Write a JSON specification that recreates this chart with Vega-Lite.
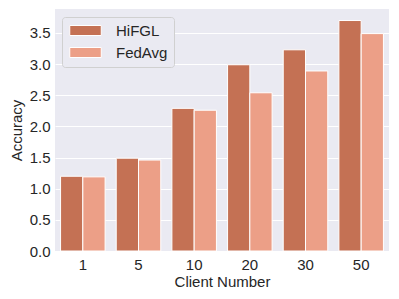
{
  "$schema": "https://vega.github.io/schema/vega-lite/v6.json",
  "width": 334,
  "height": 242,
  "autosize": {"type": "none"},
  "padding": {"left": 55, "top": 9, "right": 10, "bottom": 48},
  "background": "white",
  "config": {
    "view": {"fill": "#EAEAF2", "stroke": null},
    "font": "Liberation Sans",
    "axis": {"labelColor": "#262626", "titleColor": "#262626", "labelFontSize": 15, "titleFontSize": 15, "titleFontWeight": "normal", "domain": false, "ticks": false, "gridColor": "white", "gridWidth": 1}
  },
  "data": {
    "values": [
      {"client": "1", "method": "HiFGL", "acc": 1.2},
      {"client": "1", "method": "FedAvg", "acc": 1.19},
      {"client": "5", "method": "HiFGL", "acc": 1.49},
      {"client": "5", "method": "FedAvg", "acc": 1.46},
      {"client": "10", "method": "HiFGL", "acc": 2.29},
      {"client": "10", "method": "FedAvg", "acc": 2.26},
      {"client": "20", "method": "HiFGL", "acc": 2.99},
      {"client": "20", "method": "FedAvg", "acc": 2.54},
      {"client": "30", "method": "HiFGL", "acc": 3.23},
      {"client": "30", "method": "FedAvg", "acc": 2.89},
      {"client": "50", "method": "HiFGL", "acc": 3.7},
      {"client": "50", "method": "FedAvg", "acc": 3.49}
    ]
  },
  "mark": {"type": "bar", "stroke": "white", "strokeWidth": 1},
  "encoding": {
    "x": {
      "field": "client", "type": "nominal", "sort": ["1", "5", "10", "20", "30", "50"],
      "scale": {"paddingInner": 0.2, "paddingOuter": 0.1},
      "axis": {"title": "Client Number", "labelAngle": 0, "labelPadding": 6, "titlePadding": 2, "grid": false}
    },
    "xOffset": {"field": "method", "type": "nominal", "sort": ["HiFGL", "FedAvg"], "scale": {"paddingInner": 0, "paddingOuter": 0}},
    "y": {
      "field": "acc", "type": "quantitative",
      "scale": {"domain": [0, 3.885], "nice": false, "zero": true},
      "axis": {"title": "Accuracy", "values": [0, 0.5, 1, 1.5, 2, 2.5, 3, 3.5], "format": ".1f", "labelPadding": 5, "titlePadding": 5}
    },
    "color": {
      "field": "method", "type": "nominal", "sort": ["HiFGL", "FedAvg"],
      "scale": {"domain": ["HiFGL", "FedAvg"], "range": ["#C47154", "#EC9F87"]},
      "legend": {
        "title": null, "orient": "none", "legendX": 7, "legendY": 8,
        "fillColor": "#EAEAF2", "strokeColor": "#D0D0D0", "cornerRadius": 3, "padding": 6,
        "symbolType": "M-3.15,-1H3.15V1H-3.15Z", "symbolSize": 100, "symbolOffset": 10, "symbolStrokeColor": "white", "symbolStrokeWidth": 1,
        "labelFontSize": 15, "labelColor": "#262626", "labelOffset": 23, "rowPadding": 6
      }
    }
  }
}
